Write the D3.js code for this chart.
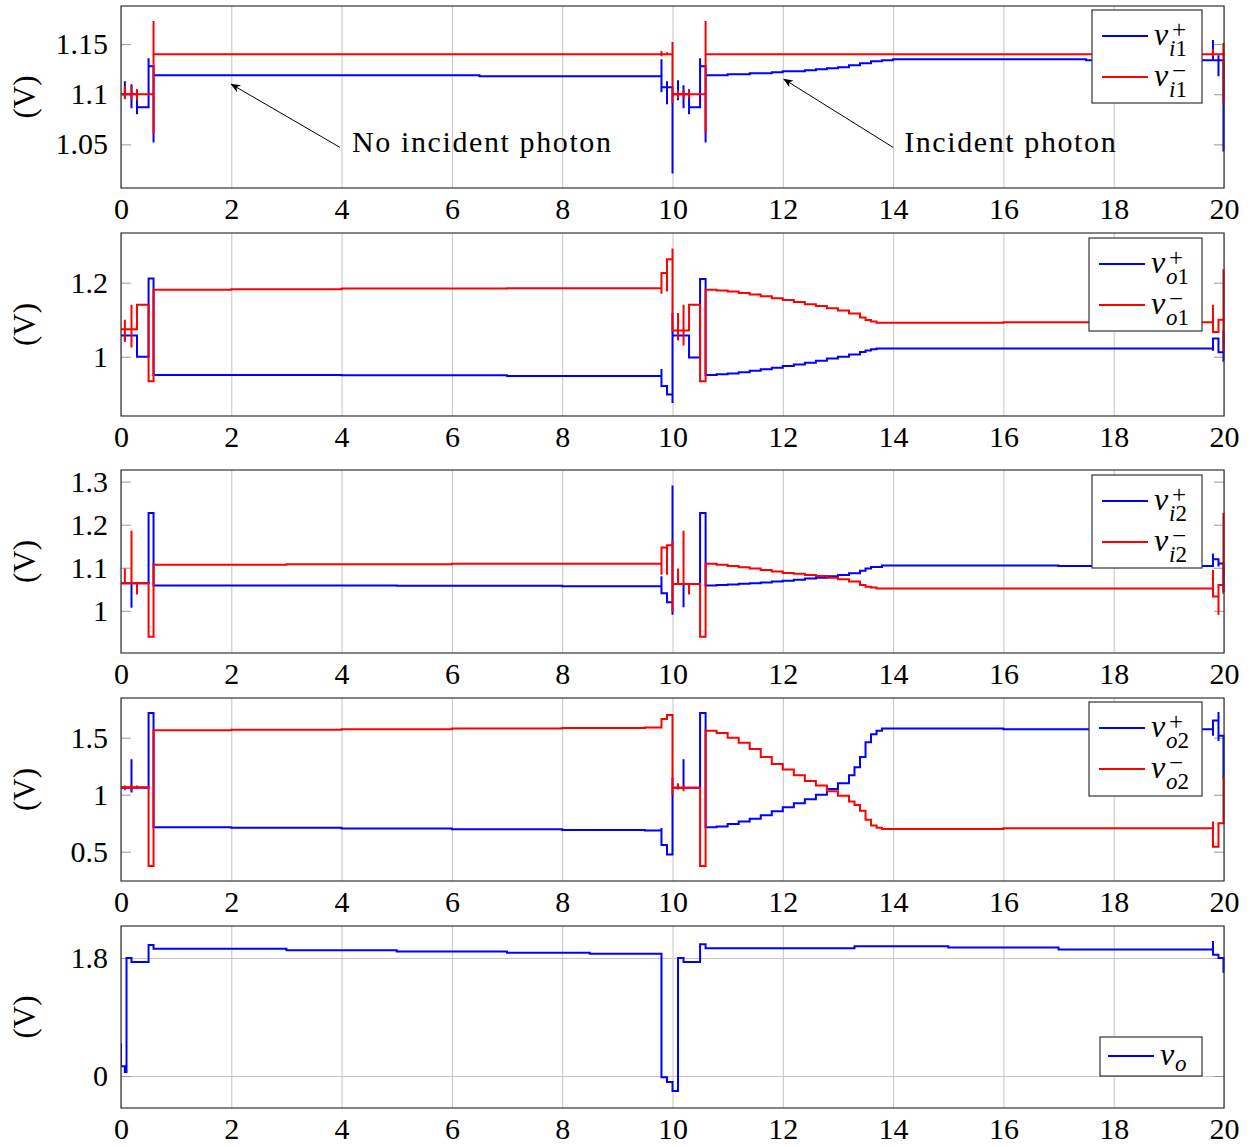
<!DOCTYPE html>
<html>
<head>
<meta charset="utf-8">
<script src="https://cdn.jsdelivr.net/npm/d3@7"></script>
<style>
  body { margin: 0; background: #fff; }
  text { font-family: "Liberation Serif", "Times New Roman", serif; fill: #000; }
</style>
</head>
<body>
<div id="chart"></div>
<script>
const W = 1252, H = 1147;
const plotLeft = 121, plotRight = 1224;

const xTicks = [0, 2, 4, 6, 8, 10, 12, 14, 16, 18, 20];

// panel 1: v_i1
const vi1Plus = [[0,1.1],[0.07,1.1],[0.07,1.113],[0.07,1.097],[0.07,1.1],[0.19,1.1],[0.19,1.11],[0.19,1.086],[0.19,1.1],
  [0.29,1.105],[0.29,1.08],[0.29,1.087],[0.5,1.087],[0.5,1.136],[0.5,1.128],[0.59,1.128],[0.59,1.052],[0.59,1.119],
  [6.5,1.118],[9.8,1.118],[9.8,1.135],[9.8,1.102],[9.8,1.107],[9.9,1.113],[9.9,1.09],[9.9,1.107],[10,1.107],[10,1.021],[10,1.1],
  [10.1,1.114],[10.1,1.094],[10.1,1.1],[10.2,1.109],[10.2,1.086],[10.2,1.1],[10.3,1.105],[10.3,1.08],[10.3,1.087],
  [10.5,1.136],[10.5,1.128],[10.6,1.128],[10.6,1.052],[10.6,1.119],[11,1.12],[11.4,1.121],[11.8,1.122],[12,1.123],
  [12.4,1.124],[12.6,1.125],[12.8,1.126],[13,1.127],[13.2,1.129],[13.4,1.131],[13.6,1.133],[13.8,1.134],[14,1.135],
  [17.5,1.134],[19.8,1.134],[19.8,1.154],[19.8,1.134],
  [19.9,1.139],[19.9,1.118],[19.9,1.134],[19.99,1.134],[19.99,1.044],[20,1.044]];
const vi1Minus = [[0,1.1],[0.07,1.1],[0.07,1.108],[0.07,1.095],[0.07,1.1],[0.19,1.1],[0.19,1.108],[0.19,1.095],[0.19,1.1],
  [0.29,1.105],[0.29,1.094],[0.29,1.1],[0.59,1.1],[0.59,1.173],[0.59,1.06],[0.59,1.14],[9.8,1.14],[9.8,1.143],[9.8,1.138],[9.8,1.14],
  [9.9,1.142],[9.9,1.139],[9.9,1.14],[10,1.14],[10,1.152],[10,1.091],[10,1.1],[10.1,1.104],[10.1,1.096],[10.1,1.1],
  [10.2,1.104],[10.2,1.096],[10.2,1.1],[10.3,1.104],[10.3,1.096],[10.3,1.1],[10.6,1.1],[10.6,1.173],[10.6,1.061],[10.6,1.14],
  [19.8,1.14],[19.8,1.145],[19.8,1.138],[19.8,1.14],[19.99,1.14],[19.99,1.151],[19.99,1.091],[20,1.091]];

// panel 2: v_o1
const vo1Plus = [[0,1.057],[0.07,1.057],[0.07,1.065],[0.07,1.045],[0.07,1.057],[0.29,1.057],[0.29,1.0],[0.5,1.0],[0.5,1.211],
  [0.59,1.211],[0.59,0.951],[4,0.95],[7,0.948],[9.8,0.947],[9.8,0.967],[9.8,0.921],[9.9,0.921],[9.9,0.898],[10,0.898],
  [10,0.875],[10,1.118],[10,1.057],[10.1,1.065],[10.1,1.045],[10.1,1.057],[10.3,1.057],[10.3,0.998],[10.5,0.998],[10.5,1.21],
  [10.6,1.21],[10.6,0.951],[10.8,0.953],[11,0.955],[11.2,0.958],[11.4,0.962],[11.6,0.966],[11.8,0.97],[12,0.975],
  [12.2,0.979],[12.4,0.984],[12.6,0.989],[12.8,0.995],[13,1.0],[13.2,1.006],[13.4,1.013],[13.5,1.017],[13.6,1.02],
  [13.7,1.022],[19.8,1.021],[19.8,1.049],[19.8,1.016],[19.8,1.049],[19.9,1.049],
  [19.9,1.012],[19.99,1.012],[19.99,1.071],[19.99,0.989],[20,0.989]];
const vo1Minus = [[0,1.074],[0.07,1.074],[0.07,1.1],[0.07,1.04],[0.07,1.074],[0.19,1.074],[0.19,1.14],[0.19,1.025],[0.19,1.074],
  [0.29,1.074],[0.29,1.14],[0.5,1.14],[0.5,0.934],[0.59,0.934],[0.59,1.181],[2,1.182],[4,1.184],[7,1.185],[9.8,1.185],
  [9.8,1.227],[9.8,1.17],[9.8,1.226],[9.9,1.226],[9.9,1.176],[9.9,1.263],[10,1.263],[10,1.292],[10,1.071],[10.1,1.071],
  [10.1,1.118],[10.1,1.044],[10.1,1.071],[10.2,1.071],[10.2,1.14],[10.2,1.03],[10.2,1.071],[10.3,1.071],[10.3,1.14],
  [10.5,1.14],[10.5,0.934],[10.6,0.934],[10.6,1.181],[10.8,1.179],[11,1.176],[11.2,1.172],[11.4,1.168],[11.6,1.163],
  [11.8,1.158],[12,1.153],[12.2,1.148],[12.4,1.142],[12.6,1.137],[12.8,1.131],[13,1.125],[13.2,1.117],[13.4,1.106],
  [13.5,1.099],[13.6,1.095],[13.7,1.092],[16,1.093],[19.8,1.094],[19.8,1.14],[19.8,1.067],
  [19.9,1.067],[19.9,1.1],[19.99,1.1],[19.99,1.236],[19.99,1.016],[20,1.016]];

// panel 3: v_i2
const vi2Plus = [[0,1.064],[0.19,1.064],[0.19,1.007],[0.19,1.064],[0.5,1.064],[0.5,1.227],[0.59,1.227],[0.59,1.059],
  [5,1.058],[8,1.057],[9.8,1.057],[9.8,1.08],[9.8,1.041],[9.9,1.041],[9.9,1.02],[10,1.02],[10,1.291],[10,0.991],[10,1.062],
  [10.2,1.062],[10.2,1.008],[10.2,1.062],[10.5,1.062],[10.5,1.227],[10.6,1.227],[10.6,1.059],[10.8,1.06],[11,1.061],
  [11.2,1.063],[11.4,1.064],[11.6,1.066],[11.8,1.068],[12,1.07],[12.2,1.072],[12.4,1.075],[12.6,1.077],[12.8,1.08],
  [13,1.083],[13.2,1.087],[13.4,1.093],[13.5,1.098],[13.6,1.102],[13.8,1.105],[17,1.104],[19.8,1.104],[19.8,1.133],
  [19.8,1.103],[19.8,1.12],[19.9,1.12],[19.9,1.103],[19.9,1.11],[19.99,1.11],[19.99,1.045],[20,1.045]];
const vi2Minus = [[0,1.064],[0.07,1.064],[0.07,1.098],[0.07,1.064],[0.19,1.064],[0.19,1.186],[0.19,1.064],[0.29,1.064],
  [0.29,1.038],[0.29,1.064],[0.5,1.064],[0.5,0.94],[0.59,0.94],[0.59,1.107],[3,1.108],[6,1.109],[9.8,1.109],[9.8,1.147],
  [9.8,1.084],[9.8,1.147],[9.9,1.147],[9.9,1.084],[9.9,1.152],[10,1.152],[10,1.163],[10,0.998],[10,1.062],[10.1,1.062],
  [10.1,1.098],[10.1,1.062],[10.2,1.062],[10.2,1.186],[10.2,1.062],[10.3,1.062],[10.3,1.038],[10.3,1.062],[10.5,1.062],
  [10.5,0.94],[10.6,0.94],[10.6,1.109],[10.8,1.107],[11,1.104],[11.2,1.101],[11.4,1.098],[11.6,1.095],[11.8,1.091],
  [12,1.088],[12.2,1.086],[12.4,1.083],[12.6,1.081],[12.8,1.077],[13,1.073],[13.2,1.068],[13.4,1.06],[13.5,1.056],
  [13.6,1.054],[13.7,1.052],[19.8,1.055],[19.8,1.095],[19.8,1.033],[19.9,1.033],
  [19.9,0.991],[19.9,1.06],[19.99,1.06],[19.99,1.227],[19.99,1.042],[20,1.042]];

// panel 4: v_o2
const vo2Plus = [[0,1.06],[0.19,1.06],[0.19,1.31],[0.19,1.02],[0.19,1.06],[0.5,1.06],[0.5,1.717],[0.59,1.717],[0.59,0.714],
  [2,0.71],[4,0.703],[6,0.697],[8,0.69],[9.5,0.686],[9.8,0.686],[9.8,0.708],[9.8,0.558],[9.9,0.558],[9.9,0.475],[10,0.475],
  [10,1.148],[10,1.06],[10.2,1.06],[10.2,1.31],[10.2,1.05],[10.2,1.06],[10.5,1.06],[10.5,1.717],[10.6,1.717],[10.6,0.714],
  [10.8,0.722],[11,0.742],[11.2,0.765],[11.4,0.79],[11.6,0.82],[11.8,0.855],[12,0.89],[12.2,0.925],[12.4,0.96],
  [12.6,1.0],[12.8,1.05],[13,1.1],[13.2,1.17],[13.3,1.24],[13.4,1.33],[13.5,1.46],[13.6,1.53],[13.7,1.56],[13.8,1.58],
  [16,1.575],[19.8,1.565],[19.8,1.65],[19.8,1.516],[19.8,1.65],[19.9,1.65],[19.9,1.726],[19.9,1.47],[19.9,1.516],
  [19.99,1.516],[19.99,1.15],[20,1.15]];
const vo2Minus = [[0,1.065],[0.07,1.065],[0.07,1.08],[0.07,1.04],[0.07,1.065],[0.19,1.065],[0.19,1.09],[0.19,1.035],[0.19,1.065],
  [0.29,1.065],[0.29,1.08],[0.29,1.05],[0.29,1.065],[0.5,1.065],[0.5,0.374],[0.59,0.374],[0.59,1.566],[2,1.57],[4,1.575],
  [6,1.58],[8,1.585],[9.5,1.59],[9.8,1.59],[9.8,1.664],[9.9,1.664],[9.9,1.7],[10,1.7],[10,1.0],[10,1.06],[10.1,1.06],
  [10.1,1.1],[10.1,1.045],[10.1,1.06],[10.2,1.06],[10.2,1.08],[10.2,1.03],[10.2,1.06],[10.5,1.06],[10.5,0.374],[10.6,0.374],
  [10.6,1.56],[10.8,1.54],[11,1.5],[11.2,1.455],[11.4,1.4],[11.6,1.33],[11.8,1.27],[12,1.22],[12.2,1.17],[12.4,1.12],
  [12.6,1.08],[12.8,1.03],[13,0.99],[13.2,0.94],[13.3,0.91],[13.4,0.86],[13.5,0.78],[13.6,0.73],[13.7,0.71],[13.8,0.7],
  [16,0.705],[19.8,0.71],[19.8,0.764],[19.8,0.543],[19.9,0.543],[19.9,0.75],[19.99,0.75],[19.99,1.15],[20,1.15]];

// panel 5: v_o
const voOut = [[0,0.5],[0,0.15],[0.07,0.15],[0.07,0.06],[0.1,0.06],[0.1,1.8],[0.19,1.8],[0.19,1.74],[0.5,1.74],[0.5,2.0],
  [0.59,2.0],[0.59,1.94],[3,1.92],[5,1.9],[7,1.88],[8.5,1.865],[9.8,1.855],[9.8,-0.02],[9.9,-0.02],[9.9,-0.09],[10,-0.09],
  [10,-0.23],[10.1,-0.23],[10.1,1.8],[10.2,1.8],[10.2,1.74],[10.5,1.74],[10.5,2.01],[10.6,2.01],[10.6,1.95],[13.3,1.95],
  [13.3,1.98],[15,1.96],[17,1.93],[19.8,1.9],[19.8,2.06],[19.8,1.85],[19.9,1.85],[19.9,1.8],[19.99,1.8],[19.99,1.59],[20,1.59]];

const panels = [
  { top: 6, bottom: 188, domain: [1.0065, 1.188], yTicks: [1.05, 1.1, 1.15], yLabels: ['1.05', '1.1', '1.15'],
    series: [vi1Plus, vi1Minus], sub: 'i1', legend: { x0: 1092, x1: 1202, y0: 10, y1: 103, rows: [36, 77] } },
  { top: 233, bottom: 416, domain: [0.84, 1.334], yTicks: [1, 1.2], yLabels: ['1', '1.2'],
    series: [vo1Plus, vo1Minus], sub: 'o1', legend: { x0: 1089, x1: 1202, y0: 238, y1: 331, rows: [264, 305] } },
  { top: 470, bottom: 653, domain: [0.902, 1.327], yTicks: [1, 1.1, 1.2, 1.3], yLabels: ['1', '1.1', '1.2', '1.3'],
    series: [vi2Plus, vi2Minus], sub: 'i2', legend: { x0: 1092, x1: 1202, y0: 475, y1: 568, rows: [501, 542] } },
  { top: 698, bottom: 881, domain: [0.243, 1.848], yTicks: [0.5, 1, 1.5], yLabels: ['0.5', '1', '1.5'],
    series: [vo2Plus, vo2Minus], sub: 'o2', legend: { x0: 1089, x1: 1202, y0: 702, y1: 796, rows: [728, 769] } },
  { top: 926, bottom: 1108, domain: [-0.488, 2.288], yTicks: [0, 1.8], yLabels: ['0', '1.8'], yGrid: true,
    series: [voOut], sub: 'o', legend: { x0: 1100, x1: 1202, y0: 1037, y1: 1076, rows: [1056] } }
];
const colors = ['#0000ff', '#ff0000'];
const signs = ['+', '\u2212'];

const svg = d3.select('#chart').append('svg')
    .attr('width', W)
    .attr('height', H);

const x = d3.scaleLinear().domain([0, 20]).range([plotLeft, plotRight]);

panels.forEach(function(p, pi) {
  let y = d3.scaleLinear().domain(p.domain).range([p.bottom, p.top]);
  let g = svg.append('g');

  // vertical grid
  g.append('g')
    .attr('transform', `translate(0,${p.bottom})`)
    .call(d3.axisBottom(x).tickValues(xTicks).tickSize(-(p.bottom - p.top)).tickFormat(''))
    .call(a => a.select('.domain').remove())
    .selectAll('line').attr('stroke', '#c4c4c4').attr('stroke-width', 1);

  if (p.yGrid) {
    g.append('g')
      .attr('transform', `translate(${plotLeft},0)`)
      .call(d3.axisLeft(y).tickValues(p.yTicks).tickSize(-(plotRight - plotLeft)).tickFormat(''))
      .call(a => a.select('.domain').remove())
      .selectAll('line').attr('stroke', '#c4c4c4').attr('stroke-width', 1);
  }

  // y ticks left with labels
  let ya = g.append('g')
    .attr('transform', `translate(${plotLeft},0)`)
    .call(d3.axisLeft(y).tickValues(p.yTicks).tickFormat((d, i) => p.yLabels[i])
      .tickSizeInner(-10).tickSizeOuter(0).tickPadding(13));
  ya.select('.domain').remove();
  ya.selectAll('line').attr('stroke', '#999');
  ya.selectAll('text').attr('font-family', '"Liberation Serif", serif').attr('font-size', 30).attr('fill', '#000');

  // y ticks right
  g.append('g')
    .attr('transform', `translate(${plotRight},0)`)
    .call(d3.axisRight(y).tickValues(p.yTicks).tickFormat('').tickSizeInner(-10).tickSizeOuter(0))
    .call(a => a.select('.domain').remove())
    .selectAll('line').attr('stroke', '#999');

  // x tick labels
  let xa = g.append('g')
    .attr('transform', `translate(0,${p.bottom})`)
    .call(d3.axisBottom(x).tickValues(xTicks).tickSize(0).tickPadding(10));
  xa.select('.domain').remove();
  xa.selectAll('text').attr('font-family', '"Liberation Serif", serif').attr('font-size', 30).attr('fill', '#000');

  // clip
  svg.append('clipPath').attr('id', `clip${pi}`)
    .append('rect').attr('x', plotLeft).attr('y', p.top - 1)
    .attr('width', plotRight - plotLeft + 1).attr('height', p.bottom - p.top + 2);

  let line = d3.line()
    .x(d => x(d[0]))
    .y(d => y(d[1]))
    .curve(d3.curveStepAfter);

  p.series.forEach(function(s, si) {
    g.append('path')
      .datum(s)
      .attr('clip-path', `url(#clip${pi})`)
      .attr('fill', 'none')
      .attr('stroke', colors[si])
      .attr('stroke-width', 2)
      .attr('d', line);
  });

  // frame
  g.append('rect')
    .attr('x', plotLeft).attr('y', p.top)
    .attr('width', plotRight - plotLeft).attr('height', p.bottom - p.top)
    .attr('fill', 'none').attr('stroke', '#333').attr('stroke-width', 1.2);

  // y label
  g.append('text')
    .attr('transform', `translate(35,${(p.top + p.bottom) / 2}) rotate(-90)`)
    .attr('text-anchor', 'middle')
    .attr('font-size', 31)
    .text('(V)');

  // legend
  let L = p.legend;
  let single = L.rows.length === 1;
  g.append('rect')
    .attr('x', L.x0).attr('y', L.y0)
    .attr('width', L.x1 - L.x0).attr('height', L.y1 - L.y0)
    .attr('fill', '#fff').attr('stroke', '#333').attr('stroke-width', 1.2);
  L.rows.forEach(function(ry, ri) {
    let lx = single ? L.x0 + 8 : L.x0 + 10;
    g.append('line')
      .attr('x1', lx).attr('x2', lx + 46)
      .attr('y1', ry).attr('y2', ry)
      .attr('stroke', colors[ri]).attr('stroke-width', 2);
    let tx = lx + 52;
    let t = g.append('text')
      .attr('x', tx).attr('y', ry + 9)
      .attr('font-size', 32);
    t.append('tspan').attr('font-style', 'italic').text('v');
    t.append('tspan').attr('x', tx + 15).attr('y', ry + (single ? 15 : 20))
      .attr('font-size', 23).attr('font-style', 'italic').text(p.sub[0]);
    if (p.sub.length > 1) t.append('tspan').attr('font-size', 23).text(p.sub.slice(1));
    if (!single) {
      t.append('tspan').attr('x', tx + 18).attr('y', ry + 2)
        .attr('font-size', 25).text(signs[ri]);
    }
  });
});

// annotations on the first panel
const annotations = [
  { label: 'No incident photon', tip: [2, 1.110], tail: [3.97, 1.047], text: [4.19, 1.042] },
  { label: 'Incident photon', tip: [12.02, 1.115], tail: [14.0, 1.047], text: [14.2, 1.042] }
];
const p1y = d3.scaleLinear().domain(panels[0].domain).range([panels[0].bottom, panels[0].top]);

svg.append('defs').append('marker')
    .attr('id', 'arrow')
    .attr('viewBox', '0 0 10 10')
    .attr('refX', 9).attr('refY', 5)
    .attr('markerWidth', 10).attr('markerHeight', 10)
    .attr('markerUnits', 'userSpaceOnUse')
    .attr('orient', 'auto')
  .append('path')
    .attr('d', 'M0,1 L10,5 L0,9 L3,5 Z')
    .attr('fill', '#000');

annotations.forEach(function(a) {
  svg.append('line')
    .attr('x1', x(a.tail[0])).attr('y1', p1y(a.tail[1]))
    .attr('x2', x(a.tip[0])).attr('y2', p1y(a.tip[1]))
    .attr('stroke', '#000').attr('stroke-width', 1)
    .attr('marker-end', 'url(#arrow)');
  svg.append('text')
    .attr('x', x(a.text[0])).attr('y', p1y(a.text[1]))
    .attr('font-size', 30)
    .attr('letter-spacing', 1.6)
    .text(a.label);
});
</script>
</body>
</html>
